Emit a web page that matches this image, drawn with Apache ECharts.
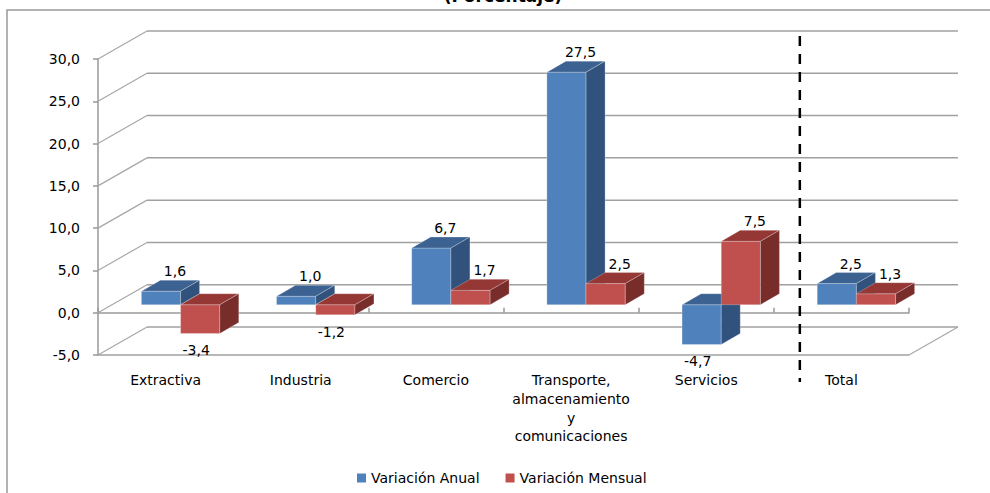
<!DOCTYPE html>
<html>
<head>
<meta charset="utf-8">
<script src="https://cdn.jsdelivr.net/npm/echarts@6/dist/echarts.min.js"></script>
<style>
html,body{margin:0;padding:0;background:#fff;}
#chart{width:990px;height:493px;}
</style>
</head>
<body>
<div id="chart"></div>
<script>
// ---- data ----
var categories = ['Extractiva', 'Industria', 'Comercio', 'Transporte,\nalmacenamiento\ny\ncomunicaciones', 'Servicios', 'Total'];
var seriesNames = ['Variación Anual', 'Variación Mensual'];
var anual = [1.6, 1.0, 6.7, 27.5, -4.7, 2.5];
var mensual = [-3.4, -1.2, 1.7, 2.5, 7.5, 1.3];
var yMin = -5, yMax = 30, yInterval = 5;
var yTicks = [-5, 0, 5, 10, 15, 20, 25, 30];
var titleText = '(Porcentaje)';

// ---- style ----
var FONT = '"DejaVu Sans", Verdana, sans-serif';
var GRID = '#a0a0a0';
var DX = 49, DY = -28;          // depth of the 3D box
var BSX = 15, BSY = -8;         // bar front plane offset
var BDX = 19, BDY = -11;        // bar depth
var BLUE = {front: '#4F81BD', top: '#3C6291', side: '#31527C'};
var RED = {front: '#C0504D', top: '#953735', side: '#782D2B'};

function fmt(v) { return v.toFixed(1).replace('.', ','); }

function renderWalls(params, api) {
  var cs = params.coordSys;
  var L = cs.x, R = cs.x + cs.width;
  var ch = [];
  function ln(x1, y1, x2, y2, st) {
    return {type: 'line', shape: {x1: x1, y1: y1, x2: x2, y2: y2},
      style: Object.assign({stroke: GRID, lineWidth: 1.5}, st || {})};
  }
  yTicks.forEach(function (v) {
    var y = api.coord([0, v])[1];
    ch.push(ln(L, y, L + DX, y + DY, {lineWidth: 1.2, stroke: '#a8a8a8'}));
    ch.push(ln(L + DX, y + DY, R + DX, y + DY));
  });
  var yb = api.coord([0, yMin])[1];
  ch.push(ln(L, yb, R, yb));
  ch.push(ln(R, yb, R + DX, yb + DY, {lineWidth: 1.2, stroke: '#a8a8a8'}));
  var band = cs.width / categories.length;
  var xs = L + (categories.length - 1) * band + 26;
  ch.push({type: 'line', z2: 50, shape: {x1: xs, y1: cs.y - 23, x2: xs, y2: yb + 27},
    style: {stroke: '#000', lineWidth: 2.5, lineDash: [10, 8]}});
  return {type: 'group', children: ch};
}

function makeBar(side, col) {
  return function (params, api) {
    var i = api.value(0), v = api.value(1);
    var c0 = api.coord([i, 0]);
    var cv = api.coord([i, v]);
    var band = api.size([1, 0])[0];
    var w = band * 0.29;
    var x0 = c0[0] + BSX + (side < 0 ? -w : 0);
    var x1 = x0 + w;
    var yTop = Math.min(c0[1], cv[1]) + BSY;
    var yBot = Math.max(c0[1], cv[1]) + BSY;
    var edge = 'rgba(255,255,255,0.25)';
    var ch = [
      {type: 'rect', shape: {x: x0, y: yTop, width: w, height: yBot - yTop},
        style: {fill: col.front, stroke: edge, lineWidth: 1}},
      {type: 'polygon', shape: {points: [[x0, yTop], [x0 + BDX, yTop + BDY], [x1 + BDX, yTop + BDY], [x1, yTop]]},
        style: {fill: col.top, stroke: edge, lineWidth: 1}},
      {type: 'polygon', shape: {points: [[x1, yTop], [x1 + BDX, yTop + BDY], [x1 + BDX, yBot + BDY], [x1, yBot]]},
        style: {fill: col.side, stroke: edge, lineWidth: 1}}
    ];
    var lx, ly;
    if (v >= 0) { lx = (x0 + x1) / 2 + 14; ly = yTop - 20; }
    else { lx = (x0 + x1) / 2 - 4; ly = yBot + 17; }
    ch.push({type: 'text', z2: 60, x: lx, y: ly,
      style: {text: fmt(v), font: '14px ' + FONT, fill: '#000', align: 'center', verticalAlign: 'middle'}});
    return {type: 'group', children: ch};
  };
}

var chart = echarts.init(document.getElementById('chart'), null, {renderer: 'svg'});
chart.setOption({
  animation: false,
  backgroundColor: '#fff',
  graphic: [
    {type: 'rect', shape: {x: 7, y: 10, width: 1000, height: 500}, style: {fill: 'none', stroke: '#999', lineWidth: 1.5}, z: -10},
    {type: 'text', x: 503, y: -4, style: {text: titleText, font: 'bold 17px ' + FONT, fill: '#000', align: 'center', verticalAlign: 'middle'}}
  ],
  legend: {
    data: seriesNames,
    left: 352, top: 466,
    icon: 'rect', itemWidth: 9, itemHeight: 9, itemGap: 26,
    textStyle: {fontFamily: FONT, fontSize: 14, color: '#000'}
  },
  grid: {left: 98, right: 81, top: 59, bottom: 138, containLabel: false},
  xAxis: {
    type: 'category',
    data: categories,
    axisLine: {show: true, onZero: true, lineStyle: {color: '#999', width: 1.5}},
    axisTick: {show: true, inside: true, length: 5, lineStyle: {color: '#999', width: 1.5}},
    axisLabel: {interval: 0, margin: 16, fontFamily: FONT, fontSize: 14, color: '#000', lineHeight: 18.7},
    splitLine: {show: false}
  },
  yAxis: {
    type: 'value',
    min: yMin, max: yMax, interval: yInterval,
    axisLine: {show: true, lineStyle: {color: '#999', width: 1.5}},
    axisTick: {show: true, length: 5, lineStyle: {color: '#999', width: 1.5}},
    axisLabel: {margin: 18, fontFamily: FONT, fontSize: 14, color: '#000', formatter: function (v) { return fmt(v); }},
    splitLine: {show: false}
  },
  series: [
    {type: 'custom', name: 'walls', z: 1, renderItem: renderWalls, data: [[0, 0]], encode: {x: 0, y: 1}, silent: true},
    {type: 'custom', name: seriesNames[0], z: 2, itemStyle: {color: BLUE.front}, renderItem: makeBar(-1, BLUE),
      data: anual.map(function (v, i) { return [i, v]; }), encode: {x: 0, y: 1}},
    {type: 'custom', name: seriesNames[1], z: 3, itemStyle: {color: RED.front}, renderItem: makeBar(1, RED),
      data: mensual.map(function (v, i) { return [i, v]; }), encode: {x: 0, y: 1}}
  ]
});
</script>
</body>
</html>
